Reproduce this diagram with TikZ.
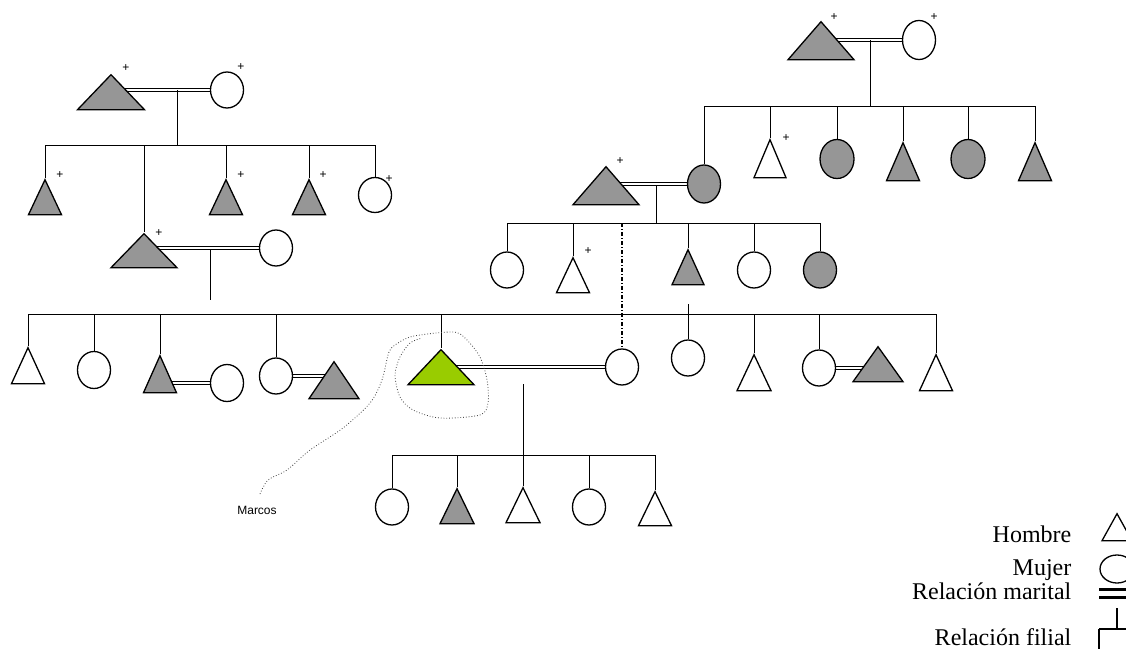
\documentclass[tikz,border=0pt]{standalone}
\usepackage{fontspec}
\setmainfont{Liberation Serif}
\newfontfamily\arialfont{Liberation Sans}
\usetikzlibrary{shapes.geometric,backgrounds}
\definecolor{gris}{RGB}{150,150,150}
\definecolor{verde}{RGB}{153,204,0}
\tikzstyle{hombre}=[draw,isosceles triangle,isosceles triangle stretches,shape border rotate=90,inner sep=0pt,anchor=apex,minimum width=33,minimum height=35]
\tikzstyle{mujer}=[draw,ellipse,inner sep=0pt,minimum width=33,minimum height=36]
\tikzstyle{muerto}=[font=\arialfont\fontsize{12}{12}\selectfont,inner sep=0pt]
\tikzstyle{marital}=[double,double distance=2.2pt,line width=1.3pt]
\tikzstyle{politico}=[line width=1.6pt,dash pattern=on 4pt off 2pt on 1pt off 2pt]
\tikzstyle{leyenda}=[font=\fontsize{24}{24}\selectfont,inner sep=0pt,anchor=base east]

\begin{document}
\begin{tikzpicture}[x=1pt,y=-1pt,line width=1.3pt]
    \useasboundingbox (0,0) rectangle (1126,648);
    % abuelos paternos
    \node[hombre,fill=gris,minimum width=67] (abP) at (111,73) {};
    \node[mujer] (abaP) at (227,90) {};
    \node[muerto] (p1) at (126,68) {+};
    \node[muerto] (p2) at (241,67) {+};
    \node[hombre,fill=gris] (h1) at (45,178) {};
    \node[hombre,fill=gris] (h3) at (226,178) {};
    \node[hombre,fill=gris] (h4) at (309,178) {};
    \node[mujer,minimum height=35] (h5) at (375,195) {};
    \node[muerto] (p3) at (60,175) {+};
    \node[muerto] (p4) at (241,175) {+};
    \node[muerto] (p5) at (323,175) {+};
    \node[muerto] (p6) at (389,179) {+};
    % padres
    \node[hombre,fill=gris,minimum width=66,minimum height=34] (pP) at (144,232) {};
    \node[mujer] (mP) at (276,248) {};
    \node[muerto] (p7) at (159,233) {+};
    % abuelos maternos
    \node[hombre,fill=gris,minimum width=66,minimum height=38] (abM) at (821,20) {};
    \node[mujer,minimum height=39] (abaM) at (919,40) {};
    \node[muerto] (p8) at (834,17) {+};
    \node[muerto] (p9) at (934,17) {+};
    \node[hombre,minimum width=32,minimum height=38] (t2) at (770,138) {};
    \node[mujer,fill=gris,minimum width=34,minimum height=39] (t3) at (837,159) {};
    \node[hombre,fill=gris,minimum height=38] (t4) at (903,141) {};
    \node[mujer,fill=gris,minimum width=34,minimum height=39] (t5) at (968,159) {};
    \node[hombre,fill=gris,minimum height=38] (t6) at (1035,141) {};
    \node[muerto] (p10) at (786,138) {+};
    % suegros
    \node[hombre,fill=gris,minimum width=66,minimum height=38] (sP) at (606,165) {};
    \node[mujer,fill=gris,minimum height=38] (sM) at (704,184) {};
    \node[muerto] (p11) at (620,161) {+};
    \node[mujer] (c1) at (507,270) {};
    \node[hombre] (c2) at (573,256) {};
    \node[hombre,fill=gris,minimum width=32] (c3) at (688,248) {};
    \node[mujer] (c4) at (754,270) {};
    \node[mujer,fill=gris] (c5) at (820,270) {};
    \node[muerto] (p12) at (588,251) {+};
    % hermanos
    \node[hombre,minimum height=36] (k1) at (28,346) {};
    \node[mujer,minimum height=37] (k2) at (94,370) {};
    \node[hombre,fill=gris,minimum height=37] (k3) at (160,354) {};
    \node[mujer,minimum height=37] (k3s) at (227,383) {};
    \node[mujer] (k4) at (276,376) {};
    \node[hombre,fill=gris,minimum width=50,minimum height=37] (k4s) at (334,360) {};
    \node[hombre,fill=verde,minimum width=66] (ego) at (441,348) {};
    \node[mujer] (wM) at (622,367) {};
    \node[mujer] (k6) at (688,358) {};
    \node[hombre,minimum width=34,minimum height=36] (k7) at (754,353) {};
    \node[mujer] (k8) at (819,368) {};
    \node[hombre,fill=gris,minimum width=50] (k8s) at (878,345) {};
    \node[hombre,minimum height=36] (k9) at (936,353) {};
    % hijos
    \node[mujer] (g1) at (392,507) {};
    \node[hombre,fill=gris,minimum width=34] (g2) at (457,487) {};
    \node[hombre,minimum width=34] (g3) at (523,486) {};
    \node[mujer] (g4) at (589,507) {};
    \node[hombre,minimum height=34] (g5) at (655,490) {};
    \node[font=\arialfont\fontsize{12}{12}\selectfont,inner sep=0pt] (marcos) at (257,510) {Marcos};
    \draw[dotted,line width=0.8pt,black!75] plot[smooth] coordinates {(260,494) (268,480) (287,470) (310,450) (343,428) (370,403) (382,380) (389,352) (398,343) (414,336) (453,332) (466,339) (480,357) (487,380) (488,403) (480,415) (440,418) (413,410) (400,397) (395,375) (400,357) (410,343) (422,338)};
    % leyenda
    \node[leyenda] (lH) at (1072,542) {Hombre};
    \node[leyenda] (lM) at (1072,575) {Mujer};
    \node[leyenda] (lR) at (1072,599) {Relación marital};
    \node[leyenda] (lF) at (1072,645) {Relación filial};
    \node[hombre,minimum width=30,minimum height=27] (sH) at (1117,512) {};
    \node[mujer,minimum width=34,minimum height=28] (sW) at (1117,569) {};
    \coordinate (sR) at (1099,589);
    \coordinate (sF1) at (1117,608);
    \coordinate (sF2) at (1099,629);
    \draw[line width=3pt] (sR) -- ++(40,0) (sR) ++(0,8) -- ++(40,0);
    \draw (sF1) -- (sF1 |- sF2);
    \draw (sF2) -- ++(40,0) (sF2) -- ++(0,25);
    \coordinate (dA) at (177,90);
    \coordinate (bA) at (0,145);
    \coordinate (dP) at (210,249);
    \coordinate (eP) at (210,300);
    \coordinate (dB) at (870,40);
    \coordinate (bB) at (0,106);
    \coordinate (dS) at (656,185);
    \coordinate (bS) at (0,223);
    \coordinate (bM) at (0,314);
    \coordinate (k6t) at (688,304);
    \coordinate (dE) at (523,384);
    \coordinate (bE) at (0,455);
    \begin{pgfonlayer}{background}
    \draw[marital] (abaP.west) -- (abaP.west -| abP.apex);
    \draw (dA) -- (dA |- bA);
    \draw (h1.north |- bA) -- (h5.north |- bA);
    \foreach \n in {h1,pP,h3,h4,h5}
        \draw (\n.north |- bA) -- (\n.north);
    \draw[marital] (mP.west) -- (mP.west -| pP.apex);
    \draw (dP) -- (eP);
    \draw[marital] (abaM.west) -- (abaM.west -| abM.apex);
    \draw (dB) -- (dB |- bB);
    \draw (sM.north |- bB) -- (t6.north |- bB);
    \foreach \n in {sM,t2,t3,t4,t5,t6}
        \draw (\n.north |- bB) -- (\n.north);
    \draw[marital] (sM.west) -- (sM.west -| sP.apex);
    \draw (dS) -- (dS |- bS);
    \draw (c1.north |- bS) -- (c5.north |- bS);
    \foreach \n in {c1,c2,c3,c4,c5}
        \draw (\n.north |- bS) -- (\n.north);
    \draw[politico] (wM.north |- bS) -- (wM.north);
    \draw (k1.north |- bM) -- (k9.north |- bM);
    \foreach \n in {k1,k2,k3,k4,ego,k7,k8,k9}
        \draw (\n.north |- bM) -- (\n.north);
    \draw (k6t) -- (k6.north);
    \draw[marital] (k3s.west) -- (k3s.west -| k3.apex);
    \draw[marital] (k4.east) -- (k4.east -| k4s.apex);
    \draw[marital] (wM.west) -- (wM.west -| ego.apex);
    \draw[marital] (k8.east) -- (k8.east -| k8s.apex);
    \draw (dE) -- (dE |- bE);
    \draw (g1.north |- bE) -- (g5.north |- bE);
    \foreach \n in {g1,g2,g3,g4,g5}
        \draw (\n.north |- bE) -- (\n.north);
    \end{pgfonlayer}
\end{tikzpicture}
\end{document}
